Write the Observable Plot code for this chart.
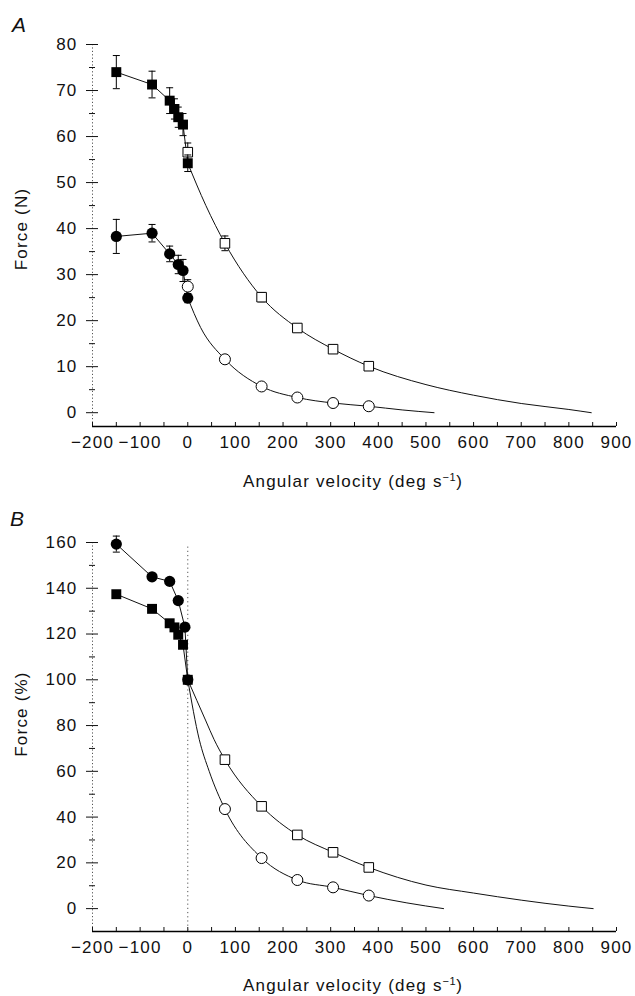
<!DOCTYPE html>
<html>
<head>
<meta charset="utf-8">
<script src="https://cdn.jsdelivr.net/npm/d3@7"></script>
<script src="https://cdn.jsdelivr.net/npm/@observablehq/plot@0.6"></script>
<style>
  html, body { margin: 0; padding: 0; background: #fff; }
  #wrap { position: relative; width: 635px; height: 996px; overflow: hidden;
          font-family: "Liberation Sans", Arial, sans-serif; color: #111; }
  #wrap svg { position: absolute; left: 0; }
  .tag { position: absolute; font-size: 21px; font-style: italic; line-height: 1; }
  .xt { position: absolute; font-size: 17px; letter-spacing: 1.2px; line-height: 1;
        white-space: nowrap; transform: translateX(-50%); }
  .xt sup { font-size: 11px; letter-spacing: 0.5px; vertical-align: 6px; line-height: 0; }
  .yt { position: absolute; font-size: 17px; letter-spacing: 1.2px; line-height: 1;
        white-space: nowrap; transform: translate(-50%, -50%) rotate(-90deg); }
</style>
</head>
<body>
<div id="wrap">
  <div class="tag" style="left:12px; top:14px;">A</div>
  <div class="tag" style="left:10px; top:508px;">B</div>
  <div class="yt" style="left:21px; top:229px;">Force (N)</div>
  <div class="yt" style="left:21px; top:714px;">Force (%)</div>
  <div class="xt" style="left:353px; top:473px;">Angular velocity (deg s<sup>−1</sup>)</div>
  <div class="xt" style="left:353px; top:977px;">Angular velocity (deg s<sup>−1</sup>)</div>
</div>
<script>
// ---------- tick values ----------
const xDomain = [-200, 900];
const xTickLabels = [-200, -100, 0, 100, 200, 300, 400, 500, 600, 700, 800, 900];
const xMinorTicks = [-200, -150, -100, -50, 0, 50, 100, 150, 200, 250, 300, 350, 400, 450, 500, 550, 600, 650, 700, 750, 800, 850, 900];

const yDomainA = [-3, 80];
const yMajorA = [0, 10, 20, 30, 40, 50, 60, 70, 80];
const yMinorA = [5, 15, 25, 35, 45, 55, 65, 75];

const yDomainB = [-10, 160];
const yMajorB = [0, 20, 40, 60, 80, 100, 120, 140, 160];
const yMinorB = [10, 30, 50, 70, 90, 110, 130, 150];

// ---------- Panel A : absolute force (N) ----------
// filled squares (eccentric)
const sqEccVA = [-150, -75, -38, -28, -20, -10, 0];
const sqEccA = [74.0, 71.3, 67.8, 66.0, 64.2, 62.6, 54.2];
const sqEccErrA = [3.6, 2.9, 2.8, 2.2, 2.2, 2.4, 1.8];
// open squares (concentric)
const sqConVA = [0, 78, 155, 230, 305, 380];
const sqConA = [56.6, 36.8, 25.1, 18.4, 13.8, 10.1];
const sqConErrA = [2.0, 1.6, 1.0, 0.6, 0.5, 0.4];
// filled circles (eccentric)
const ciEccVA = [-150, -75, -38, -20, -10, 0];
const ciEccA = [38.3, 39.0, 34.5, 32.2, 30.9, 24.9];
const ciEccErrA = [3.7, 1.9, 1.7, 2.0, 2.4, 1.0];
// open circles (concentric)
const ciConVA = [0, 78, 155, 230, 305, 380];
const ciConA = [27.4, 11.6, 5.7, 3.3, 2.1, 1.4];
const ciConErrA = [1.5, 0.6, 0.4, 0.3, 0.2, 0.2];
// fitted curves
const sqFitVA = [0, 38, 78, 155, 230, 305, 380, 500, 600, 700, 800, 847];
const sqFitA = [54.2, 45.0, 36.8, 25.1, 18.4, 13.8, 10.1, 6.1, 3.8, 2.0, 0.7, 0];
const ciFitVA = [0, 27, 78, 155, 230, 305, 380, 450, 517];
const ciFitA = [24.9, 18.5, 11.6, 5.7, 3.3, 2.1, 1.4, 0.6, 0];

// ---------- Panel B : relative force (%) ----------
const sqEccVB = [-150, -75, -38, -28, -20, -10, 0];
const sqEccB = [137.4, 131.0, 124.7, 122.9, 119.7, 115.3, 100];
const sqEccErrB = [1.5, 1.2, 1.0, 1.0, 1.0, 1.0, 0];
const sqConVB = [78, 155, 230, 305, 380];
const sqConB = [65.1, 44.7, 32.2, 24.6, 18.0];
const ciEccVB = [-150, -75, -38, -20, -6, 0];
const ciEccB = [159.3, 145.0, 143.0, 134.6, 123.0, 100];
const ciEccErrB = [3.5, 1.2, 1.2, 1.5, 1.2, 0];
const ciConVB = [78, 155, 230, 305, 380];
const ciConB = [43.5, 22.1, 12.5, 9.3, 5.7];
const sqFitVB = [0, 38, 55, 78, 155, 230, 305, 380, 500, 600, 700, 800, 851];
const sqFitB = [100, 82, 74, 65.1, 44.7, 32.2, 24.6, 18.0, 10.3, 6.8, 3.7, 1.1, 0];
const ciFitVB = [0, 24, 45, 78, 155, 230, 305, 380, 460, 537];
const ciFitB = [100, 74, 60, 43.5, 22.1, 12.5, 9.3, 5.7, 2.5, 0];

// ---------- helpers ----------
const rows = (v, y, e) => v.map((d, i) => ({v: d, y: y[i], e: e ? e[i] : 0}));
const capSymbol = {
  draw(ctx, size) { const w = Math.sqrt(size / Math.PI); ctx.moveTo(-w, 0); ctx.lineTo(w, 0); }
};
const font = {fontFamily: "'Liberation Sans', Arial, sans-serif", fontSize: "17px",
              letterSpacing: "1.2px", color: "#111", background: "transparent", overflow: "visible"};

function errMarks(data) {
  const d = data.filter(r => r.e > 0);
  return [
    Plot.ruleX(d, {x: "v", y1: r => r.y - r.e, y2: r => r.y + r.e, stroke: "#000", strokeWidth: 1}),
    Plot.dot(d, {x: "v", y: r => r.y + r.e, symbol: capSymbol, r: 3.5, fill: "none", stroke: "#000", strokeWidth: 1}),
    Plot.dot(d, {x: "v", y: r => r.y - r.e, symbol: capSymbol, r: 3.5, fill: "none", stroke: "#000", strokeWidth: 1})
  ];
}

function axes(yDomain, yMajor, yMinor) {
  return [
    Plot.ruleX([xDomain[0]], {stroke: "#555", strokeWidth: 1, strokeDasharray: "1.2,2.2"}),
    Plot.ruleY([yDomain[0]], {stroke: "#000", strokeWidth: 1.6}),
    Plot.axisY({ticks: yMajor, tickSize: 6, tickPadding: 9, label: null, tickFormat: d => d}),
    Plot.axisY({ticks: yMajor, tickSize: -6, text: null, label: null}),
    Plot.axisY({ticks: yMinor, tickSize: 3, text: null, label: null}),
    Plot.axisY({ticks: yMinor, tickSize: -3, text: null, label: null}),
    Plot.axisX({ticks: xTickLabels, tickSize: 0, tickPadding: 9, label: null}),
    Plot.axisX({ticks: xMinorTicks, tickSize: -4, text: null, label: null})
  ];
}

// ---------- Panel A ----------
const A_sqEcc = rows(sqEccVA, sqEccA, sqEccErrA);
const A_sqCon = rows(sqConVA, sqConA, sqConErrA);
const A_ciEcc = rows(ciEccVA, ciEccA, ciEccErrA);
const A_ciCon = rows(ciConVA, ciConA, ciConErrA);

const plotA = Plot.plot({
  width: 635, height: 496,
  marginLeft: 92, marginRight: 19, marginTop: 44, marginBottom: 70,
  x: {domain: xDomain},
  y: {domain: yDomainA},
  style: font,
  marks: [
    ...axes(yDomainA, yMajorA, yMinorA),
    Plot.line(rows(sqFitVA, sqFitA), {x: "v", y: "y", curve: "monotone-x", stroke: "#111", strokeWidth: 1}),
    Plot.line(rows(ciFitVA, ciFitA), {x: "v", y: "y", curve: "monotone-x", stroke: "#111", strokeWidth: 1}),
    Plot.line(A_sqEcc, {x: "v", y: "y", stroke: "#111", strokeWidth: 1}),
    Plot.line(A_ciEcc, {x: "v", y: "y", stroke: "#111", strokeWidth: 1}),
    ...errMarks(A_sqCon), ...errMarks(A_ciCon),
    Plot.dot(A_sqCon, {x: "v", y: "y", symbol: "square", r: 5.4, fill: "#fff", stroke: "#000", strokeWidth: 1}),
    Plot.dot(A_ciCon, {x: "v", y: "y", symbol: "circle", r: 5.5, fill: "#fff", stroke: "#000", strokeWidth: 1}),
    ...errMarks(A_sqEcc), ...errMarks(A_ciEcc),
    Plot.dot(A_sqEcc, {x: "v", y: "y", symbol: "square", r: 5.6, fill: "#000", stroke: "none"}),
    Plot.dot(A_ciEcc, {x: "v", y: "y", symbol: "circle", r: 5.6, fill: "#000", stroke: "none"})
  ]
});
plotA.style.top = "0px";

// ---------- Panel B ----------
const B_sqEcc = rows(sqEccVB, sqEccB, sqEccErrB);
const B_sqCon = rows(sqConVB, sqConB);
const B_ciEcc = rows(ciEccVB, ciEccB, ciEccErrB);
const B_ciCon = rows(ciConVB, ciConB);

const plotB = Plot.plot({
  width: 635, height: 500,
  marginLeft: 92, marginRight: 19, marginTop: 46, marginBottom: 65,
  x: {domain: xDomain},
  y: {domain: yDomainB},
  style: font,
  marks: [
    ...axes(yDomainB, yMajorB, yMinorB),
    Plot.ruleX([0], {y1: 158, y2: yDomainB[0], stroke: "#555", strokeWidth: 1, strokeDasharray: "1.2,3"}),
    Plot.line(rows(sqFitVB, sqFitB), {x: "v", y: "y", curve: "monotone-x", stroke: "#111", strokeWidth: 1}),
    Plot.line(rows(ciFitVB, ciFitB), {x: "v", y: "y", curve: "monotone-x", stroke: "#111", strokeWidth: 1}),
    Plot.line(B_sqEcc, {x: "v", y: "y", stroke: "#111", strokeWidth: 1}),
    Plot.line(B_ciEcc, {x: "v", y: "y", stroke: "#111", strokeWidth: 1}),
    Plot.dot(B_sqCon, {x: "v", y: "y", symbol: "square", r: 5.4, fill: "#fff", stroke: "#000", strokeWidth: 1}),
    Plot.dot(B_ciCon, {x: "v", y: "y", symbol: "circle", r: 5.5, fill: "#fff", stroke: "#000", strokeWidth: 1}),
    ...errMarks(B_sqEcc),
    Plot.dot(B_sqEcc, {x: "v", y: "y", symbol: "square", r: 5.6, fill: "#000", stroke: "none"}),
    ...errMarks(B_ciEcc),
    Plot.dot(B_ciEcc, {x: "v", y: "y", symbol: "circle", r: 5.6, fill: "#000", stroke: "none"})
  ]
});
plotB.style.top = "496px";

const wrap = document.getElementById("wrap");
wrap.appendChild(plotA);
wrap.appendChild(plotB);
</script>
</body>
</html>
